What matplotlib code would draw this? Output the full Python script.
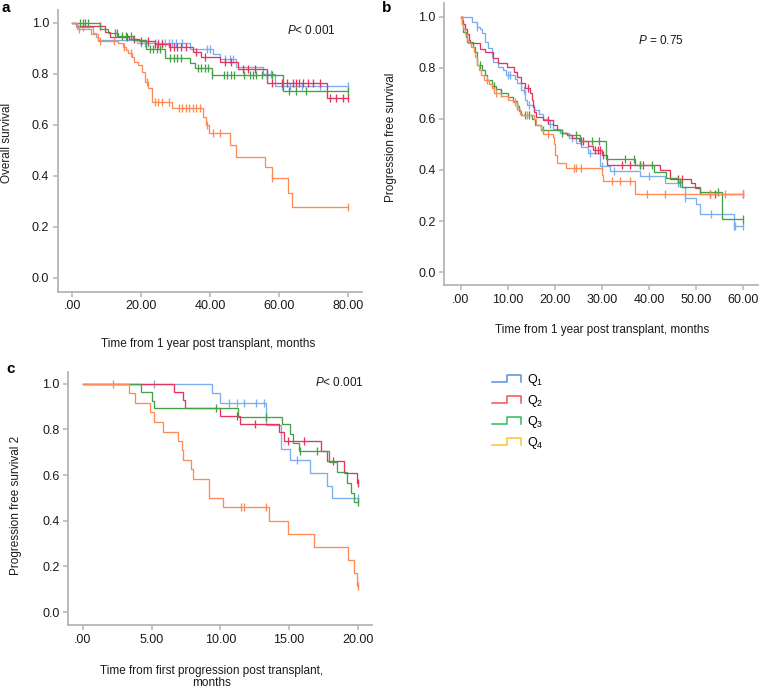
import numpy as np
import matplotlib
matplotlib.use("Agg")
import matplotlib.pyplot as plt
from matplotlib.lines import Line2D
from matplotlib.legend_handler import HandlerBase

plt.rcParams['font.family'] = ['Liberation Sans', 'DejaVu Sans']
plt.rcParams['mathtext.fontset'] = 'custom'
plt.rcParams['mathtext.rm'] = 'Liberation Sans'
plt.rcParams['mathtext.it'] = 'Liberation Sans:italic'

# ---------------- data ----------------
groups = ["Q$_1$", "Q$_2$", "Q$_3$", "Q$_4$"]

# Panel a: overall survival (event times, survival after event, censor times)
a_q1_t = [1.0, 6.1, 7.0, 7.6, 18.7, 34.2, 41.0, 42.9, 47.7, 55.5, 58.9]
a_q1_s = [0.985, 0.958, 0.945, 0.932, 0.92, 0.896, 0.876, 0.856, 0.827, 0.80, 0.752]
a_q1_c = [3, 20, 21, 22, 24, 25, 26, 27, 28, 29, 30, 32, 39, 40, 44.3, 45.8, 46.7,
          56.5, 57.8, 60.8, 63.2, 66.6, 72, 80]
a_q2_t = [1.5, 9.5, 11.0, 16.5, 19.5, 24.0, 28.0, 35.0, 37.5, 43.0, 48.0, 56.5, 73.9]
a_q2_s = [0.988, 0.965, 0.945, 0.935, 0.928, 0.918, 0.905, 0.885, 0.865, 0.845, 0.82, 0.765, 0.705]
a_q2_c = [8, 16, 18, 20, 22, 24, 25, 26, 28.5, 29.5, 30.5, 31.5, 33, 36, 38.5, 44.5, 46,
          49.5, 51, 53, 58, 61, 62.5, 64, 65, 66, 67, 68.5, 70, 72, 75, 76.5, 78.5, 80]
a_q3_t = [8.0, 10.4, 13.3, 17.5, 21.4, 26.8, 34.3, 35.6, 40.7, 61.1]
a_q3_s = [0.974, 0.961, 0.948, 0.932, 0.896, 0.863, 0.841, 0.822, 0.796, 0.733]
a_q3_c = [2.3, 3.2, 3.7, 4.7, 12.5, 13, 14.5, 15.5, 17, 22.5, 23.5, 24.5, 25.5, 28.5, 29.5,
          30.5, 31.5, 36.5, 37.5, 38.5, 39.5, 40.7, 44, 45, 46, 47, 50, 51.5, 52.5, 53.5,
          55, 56.5, 58, 63, 65, 68, 80]
a_q4_t = [1.3, 5.5, 7.6, 13.4, 14.8, 15.6, 16.3, 17.3, 18.0, 19.2, 20.2, 21.1, 22.1, 23.1,
          28.9, 37.9, 38.8, 39.8, 45.8, 47.7, 56.0, 57.9, 62.8, 63.9]
a_q4_s = [0.974, 0.955, 0.93, 0.919, 0.906, 0.893, 0.880, 0.867, 0.847, 0.834, 0.808,
          0.769, 0.743, 0.69, 0.665, 0.63, 0.599, 0.566, 0.52, 0.475, 0.435, 0.39, 0.333, 0.278]
a_q4_c = [2.0, 8.0, 12.0, 15.0, 17.0, 21.7, 24.0, 25.0, 26.0, 28.0, 31.0, 32.0, 33.0, 34.0,
          35.0, 36.0, 37.0, 39.0, 41.0, 43.0, 58.0, 80.0]

# Panel b: progression free survival
b_q1_t = [2.3, 3.3, 4.0, 4.4, 5.1, 5.8, 6.5, 6.9, 7.9, 9.0, 9.5, 11.5, 12.0, 12.8, 13.5, 14.0,
          15.5, 16.5, 17.5, 18.5, 19.5, 21.0, 23.0, 24.5, 25.5, 27.0, 29.6, 31.7, 38.0, 43.4,
          46.5, 47.6, 50.0, 50.8, 57.9]
b_q1_s = [0.98, 0.961, 0.95, 0.935, 0.902, 0.876, 0.843, 0.824, 0.804, 0.79, 0.772, 0.755,
          0.74, 0.713, 0.674, 0.655, 0.635, 0.618, 0.60, 0.58, 0.56, 0.545, 0.525, 0.505, 0.49,
          0.468, 0.417, 0.397, 0.377, 0.35, 0.335, 0.29, 0.265, 0.227, 0.181]
b_q1_c = [3.5, 10.0, 10.5, 13.3, 14.5, 19.0, 23.5, 27.5, 29.9, 32.5, 40.0, 46.0, 47.6, 53.2,
          57.9, 58.3, 60.0]
b_q2_t = [0.2, 0.5, 0.8, 1.2, 1.6, 2.0, 4.0, 5.0, 6.7, 7.9, 9.7, 11.3, 12.0, 12.7, 13.5, 14.6,
          15.0, 15.3, 15.6, 15.9, 17.5, 19.6, 20.5, 21.5, 22.5, 23.5, 25.0, 27.0, 28.0, 30.0,
          31.0, 42.3, 44.5, 48.8, 49.8, 50.8]
b_q2_s = [0.985, 0.97, 0.95, 0.93, 0.91, 0.896, 0.872, 0.86, 0.837, 0.82, 0.804, 0.785, 0.765,
          0.742, 0.72, 0.70, 0.675, 0.648, 0.628, 0.609, 0.596, 0.576, 0.557, 0.545, 0.535,
          0.525, 0.515, 0.495, 0.478, 0.46, 0.42, 0.40, 0.365, 0.35, 0.33, 0.306]
b_q2_c = [0.3, 14.3, 18.5, 25.5, 26.0, 28.5, 29.0, 29.5, 30.2, 34.2, 35.9, 38.0, 38.7, 46.0,
          47.0, 53.0, 54.0, 60.0]
b_q3_t = [0.2, 0.5, 1.0, 1.3, 2.5, 3.0, 3.3, 3.5, 4.5, 5.0, 5.5, 6.5, 7.5, 8.5, 10.0, 11.0,
          11.8, 12.3, 12.7, 15.0, 15.8, 17.0, 21.5, 22.5, 25.3, 30.8, 37.0, 40.9, 43.6, 46.0,
          46.9, 50.8, 55.4]
b_q3_s = [0.97, 0.94, 0.92, 0.90, 0.88, 0.86, 0.83, 0.81, 0.79, 0.77, 0.75, 0.73, 0.715, 0.70,
          0.685, 0.67, 0.65, 0.63, 0.615, 0.60, 0.575, 0.555, 0.545, 0.535, 0.515, 0.442,
          0.42, 0.394, 0.37, 0.354, 0.335, 0.315, 0.21]
b_q3_c = [4.0, 7.0, 8.5, 12.0, 13.5, 14.5, 17.5, 21.5, 24.5, 27.8, 29.3, 34.9, 36.7, 38.0,
          40.5, 46.5, 54.6, 60.0]
b_q4_t = [0.3, 0.5, 0.8, 1.2, 1.5, 2.2, 2.8, 3.0, 3.5, 3.8, 4.3, 4.8, 6.0, 6.5, 7.0, 8.5,
          10.0, 11.0, 12.0, 12.5, 13.0, 15.5, 16.0, 17.0, 17.5, 19.5, 19.8, 20.0, 20.3, 22.3,
          29.9, 30.2, 37.0]
b_q4_s = [0.97, 0.95, 0.93, 0.91, 0.895, 0.88, 0.86, 0.84, 0.81, 0.79, 0.77, 0.75, 0.735,
          0.72, 0.70, 0.69, 0.675, 0.665, 0.64, 0.62, 0.615, 0.60, 0.575, 0.56, 0.54, 0.53,
          0.50, 0.46, 0.426, 0.407, 0.38, 0.355, 0.306]
b_q4_c = [5.5, 7.5, 11.5, 14.0, 18.5, 24.0, 24.5, 25.5, 32.0, 33.8, 35.9, 39.5, 43.4, 53.0,
          56.0, 60.0]

# Panel c: progression free survival 2
c_q1_t = [9.4, 10.0, 13.3, 13.35, 14.4, 14.45, 15.1, 16.5, 17.8, 18.1]
c_q1_s = [0.958, 0.917, 0.875, 0.819, 0.77, 0.716, 0.664, 0.608, 0.554, 0.50]
c_q1_c = [5.2, 10.6, 11.2, 11.7, 12.6, 13.2, 15.6, 20.0]
c_q2_t = [6.6, 7.3, 7.45, 10.0, 11.4, 14.3, 14.6, 17.3, 17.8, 19.0, 19.93]
c_q2_s = [0.965, 0.93, 0.895, 0.86, 0.825, 0.789, 0.748, 0.704, 0.66, 0.611, 0.567]
c_q2_c = [11.2, 12.5, 14.9, 16.1, 18.2, 20.0]
c_q3_t = [4.2, 5.0, 5.2, 11.3, 14.5, 15.07, 15.3, 15.75, 17.9, 18.5, 19.2, 19.5, 19.7]
c_q3_s = [0.963, 0.924, 0.892, 0.856, 0.822, 0.78, 0.739, 0.703, 0.659, 0.615, 0.565, 0.522, 0.48]
c_q3_c = [9.7, 13.3, 15.8, 17.06, 20.0]
c_q4_t = [3.37, 3.8, 4.9, 5.17, 5.85, 6.94, 7.18, 7.3, 7.84, 8.03, 9.17, 10.2, 13.57, 14.9,
          16.8, 19.27, 19.76, 19.95]
c_q4_s = [0.958, 0.917, 0.875, 0.833, 0.79, 0.75, 0.708, 0.667, 0.625, 0.583, 0.50, 0.458,
          0.40, 0.343, 0.286, 0.229, 0.171, 0.114]
c_q4_c = [2.18, 11.5, 11.7, 13.3, 20.0]

y_ticks = [0.0, 0.2, 0.4, 0.6, 0.8, 1.0]
y_ticklabels = ["0.0", "0.2", "0.4", "0.6", "0.8", "1.0"]
a_xticks = [0, 20, 40, 60, 80]
a_xticklabels = [".00", "20.00", "40.00", "60.00", "80.00"]
b_xticks = [0, 10, 20, 30, 40, 50, 60]
b_xticklabels = [".00", "10.00", "20.00", "30.00", "40.00", "50.00", "60.00"]
c_xticks = [0, 5, 10, 15, 20]
c_xticklabels = [".00", "5.00", "10.00", "15.00", "20.00"]

# ---------------- style ----------------
curve_colors = ['#7aaef0', '#e6335e', '#45a047', '#ff8a55']
legend_colors = ['#5a8fd6', '#ff4d4d', '#2ebd5a', '#ffc530']
spine_col = '#b5b5b5'

W, H = 760, 689
fig = plt.figure(figsize=(W / 100, H / 100), dpi=100)


def ax_px(left, top, right, bottom):
    return fig.add_axes([left / W, 1 - bottom / H, (right - left) / W, (bottom - top) / H])


def km_at(times, surv, t):
    idx = np.searchsorted(times, t, side='right')
    return 1.0 if idx == 0 else surv[idx - 1]


def draw_km(ax, times, surv, cens, color):
    times = np.asarray(times, float)
    surv = np.asarray(surv, float)
    cens = np.asarray(cens, float)
    end = max(times.max(), cens.max())
    xs = np.r_[0.0, times, end]
    ys = np.r_[1.0, surv, surv[-1]]
    ax.step(xs, ys, where='post', color=color, lw=0.95, solid_joinstyle='miter')
    cy = [km_at(times, surv, c) for c in cens]
    ax.plot(cens, cy, ls='none', marker='|', ms=5.5, mew=0.95, color=color)


def style_ax(ax, xlim, ylim, xt, xtl):
    ax.set_xlim(*xlim)
    ax.set_ylim(*ylim)
    for s in ['top', 'right']:
        ax.spines[s].set_visible(False)
    for s in ['left', 'bottom']:
        ax.spines[s].set_color(spine_col)
        ax.spines[s].set_linewidth(1.3)
    ax.set_xticks(xt)
    ax.set_xticklabels(xtl)
    ax.set_yticks(y_ticks)
    ax.set_yticklabels(y_ticklabels)
    ax.tick_params(axis='both', color=spine_col, width=1.1, length=3.8, labelsize=9,
                   labelcolor='#1a1a1a', pad=2.5)
    ax.patch.set_visible(False)


panels = [
    (ax_px(57.7, 10, 361.7, 291.7), (-4.24, 84.07), (-0.055, 1.05), a_xticks, a_xticklabels,
     [(a_q1_t, a_q1_s, a_q1_c), (a_q2_t, a_q2_s, a_q2_c), (a_q3_t, a_q3_s, a_q3_c), (a_q4_t, a_q4_s, a_q4_c)]),
    (ax_px(444.3, 3.3, 758, 285), (-3.55, 63.1), (-0.05, 1.052), b_xticks, b_xticklabels,
     [(b_q1_t, b_q1_s, b_q1_c), (b_q2_t, b_q2_s, b_q2_c), (b_q3_t, b_q3_s, b_q3_c), (b_q4_t, b_q4_s, b_q4_c)]),
    (ax_px(68.3, 371.7, 371.7, 625), (-1.07, 21.02), (-0.056, 1.052), c_xticks, c_xticklabels,
     [(c_q1_t, c_q1_s, c_q1_c), (c_q2_t, c_q2_s, c_q2_c), (c_q3_t, c_q3_s, c_q3_c), (c_q4_t, c_q4_s, c_q4_c)]),
]

for ax, xl, yl, xt, xtl, curves in panels:
    style_ax(ax, xl, yl, xt, xtl)
    for (t, s, c), col in zip(curves, curve_colors):
        draw_km(ax, t, s, c, col)

def ftext(x, y, s, **kw):
    fig.text(x / W, 1 - y / H, s, **kw)

# labels
lab = dict(fontsize=8.5, color='#1a1a1a')
ftext(7, 143, "Overall survival", rotation=90, ha='center', va='center', **lab)
ftext(208, 344, "Time from 1 year post transplant, months", ha='center', va='center', **lab)
ftext(391, 137, "Progression free survival", rotation=90, ha='center', va='center', **lab)
ftext(602, 330, "Time from 1 year post transplant, months", ha='center', va='center', **lab)
ftext(16, 505, "Progression free survival 2", rotation=90, ha='center', va='center', **lab)
ftext(212, 671, "Time from first progression post transplant,", ha='center', va='center', **lab)
ftext(212, 683, "months", ha='center', va='center', **lab)

# P-values
ftext(287, 31, "$P$< 0.001", ha='left', va='center', fontsize=8.5, color='#1a1a1a')
ftext(638, 40, "$P$ = 0.75", ha='left', va='center', fontsize=8.5, color='#1a1a1a')
ftext(315, 382, "$P$< 0.001", ha='left', va='center', fontsize=8.5, color='#1a1a1a')

# panel letters
ftext(1, 8, "a", ha='left', va='center', fontsize=11, fontweight='bold')
ftext(382, 8, "b", ha='left', va='center', fontsize=11, fontweight='bold')
ftext(6, 369, "c", ha='left', va='center', fontsize=11, fontweight='bold')


# legend with step-shaped icons
class StepHandler(HandlerBase):
    def create_artists(self, legend, orig_handle, xdescent, ydescent, width, height,
                       fontsize, trans):
        x0 = -xdescent
        y0 = -ydescent
        lo = y0 + 0.05 * height
        hi = y0 + 1.0 * height
        xs = [x0, x0 + 0.53 * width, x0 + 0.53 * width, x0 + width, x0 + width]
        ys = [lo, lo, hi, hi, lo]
        ln = Line2D(xs, ys, color=orig_handle.get_color(), lw=1.1, transform=trans)
        return [ln]


handles = [Line2D([], [], color=c) for c in legend_colors]
fig.legend(handles, groups, loc='upper left', bbox_to_anchor=(492 / W, 1 - 372 / H),
           frameon=False, fontsize=9, handlelength=2.3, handleheight=0.6,
           handletextpad=0.5, labelspacing=0.4, borderpad=0, borderaxespad=0,
           handler_map={Line2D: StepHandler()})

fig.savefig("out.png", dpi=100)
